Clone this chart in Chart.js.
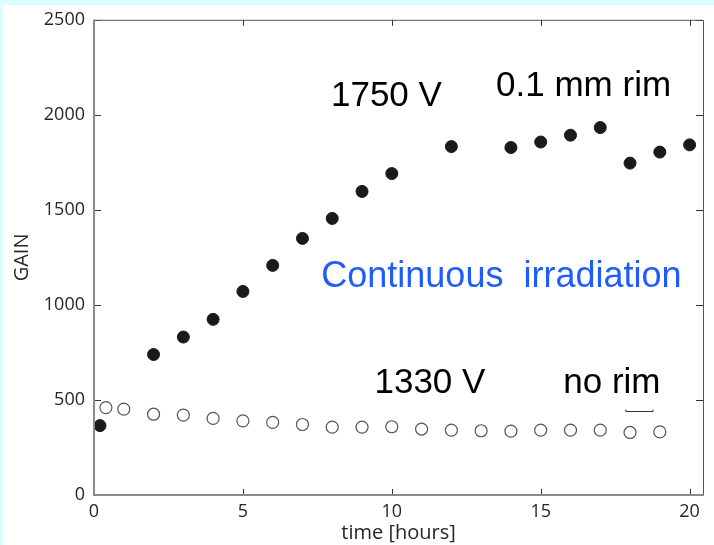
<!DOCTYPE html>
<html>
<head>
<meta charset="utf-8">
<script src="https://cdn.jsdelivr.net/npm/chart.js@4"></script>
<style>
  html, body { margin: 0; padding: 0; background: #dbffff; }
  #wrap { position: absolute; left: 0; top: 0; width: 714px; height: 545px; }
  #paper { position: absolute; left: 3px; top: 5px; right: 0; bottom: 0; background: #fff; }
</style>
</head>
<body>
<div id="wrap">
  <div id="paper"></div>
  <canvas id="chart" width="714" height="545" style="position:absolute;left:0;top:0"></canvas>
</div>
<script>
// 1750 V, 0.1 mm rim (filled dots)
const rimHours = [0.2, 2, 3, 4, 5, 6, 7, 8, 9, 10, 12, 14, 15, 16, 17, 18, 19, 20];
const rimGain = [365, 739, 831, 924, 1071, 1208, 1350, 1455, 1597, 1691, 1833, 1828, 1857, 1893, 1933, 1746, 1804, 1842];

// 1330 V, no rim (open circles)
const noRimHours = [0.4, 1, 2, 3, 4, 5, 6, 7, 8, 9, 10, 11, 12, 13, 14, 15, 16, 17, 18, 19];
const noRimGain = [460, 452, 425, 420, 403, 390, 382, 371, 357, 357, 359, 347, 341, 338, 336, 341, 341, 341, 329, 332];

const xTicks = [0, 5, 10, 15, 20];
const yTicks = [0, 500, 1000, 1500, 2000, 2500];

// text notes placed in data units
const notes = [
  { text: "1750 V", x: 9.82, y: 2048, color: "#000", size: 35 },
  { text: "0.1 mm rim", x: 16.44, y: 2101, color: "#000", size: 35 },
  { text: "Continuous  irradiation", x: 13.68, y: 1092, color: "#1f5cff", size: 36 },
  { text: "1330 V", x: 11.28, y: 536, color: "#000", size: 35 },
  { text: "no rim", x: 17.39, y: 536, color: "#000", size: 35 },
];
const bracket = { x0: 17.86, x1: 18.77, y: 441 };

const toPts = (xs, ys) => xs.map((x, i) => ({ x, y: ys[i] }));

const framePlugin = {
  id: "frame",
  afterDatasetsDraw(chart) {
    const { ctx, chartArea: a, scales } = chart;
    ctx.save();
    // ticks pointing inward on all four sides
    ctx.strokeStyle = "#333";
    ctx.lineWidth = 1;
    xTicks.forEach((v) => {
      const px = Math.round(scales.x.getPixelForValue(v)) + 0.5;
      ctx.beginPath();
      ctx.moveTo(px, a.bottom); ctx.lineTo(px, a.bottom - 6);
      ctx.moveTo(px, a.top); ctx.lineTo(px, a.top + 6);
      ctx.stroke();
    });
    yTicks.forEach((v) => {
      const py = Math.round(scales.y.getPixelForValue(v)) + 0.5;
      ctx.beginPath();
      ctx.moveTo(a.left, py); ctx.lineTo(a.left + 7, py);
      ctx.moveTo(a.right, py); ctx.lineTo(a.right - 7, py);
      ctx.stroke();
    });
    // top and right border
    ctx.strokeStyle = "#555";
    ctx.beginPath();
    ctx.moveTo(a.left, a.top + 0.5); ctx.lineTo(a.right + 0.5, a.top + 0.5);
    ctx.lineTo(a.right + 0.5, a.bottom);
    ctx.stroke();
    // left and bottom axis
    ctx.strokeStyle = "#8a8a8a";
    ctx.lineWidth = 2;
    ctx.beginPath();
    ctx.moveTo(a.left, a.top); ctx.lineTo(a.left, a.bottom); ctx.lineTo(a.right + 1, a.bottom);
    ctx.stroke();

    // annotations
    ctx.textAlign = "center";
    ctx.textBaseline = "alphabetic";
    notes.forEach((n) => {
      ctx.font = n.size + "px 'Liberation Sans', Arial, sans-serif";
      ctx.fillStyle = n.color;
      ctx.fillText(n.text, scales.x.getPixelForValue(n.x), scales.y.getPixelForValue(n.y));
    });
    const bx0 = scales.x.getPixelForValue(bracket.x0);
    const bx1 = scales.x.getPixelForValue(bracket.x1);
    const by = Math.round(scales.y.getPixelForValue(bracket.y)) + 0.5;
    ctx.strokeStyle = "#333";
    ctx.lineWidth = 1;
    ctx.beginPath();
    ctx.moveTo(bx0, by - 2); ctx.lineTo(bx0, by); ctx.lineTo(bx1, by); ctx.lineTo(bx1, by - 2);
    ctx.stroke();
    ctx.restore();
  },
};

const plain = (v) => String(v);

new Chart(document.getElementById("chart"), {
  type: "scatter",
  data: {
    datasets: [
      {
        label: "1750 V",
        data: toPts(rimHours, rimGain),
        pointRadius: 6,
        pointBackgroundColor: "#1a1a1a",
        pointBorderColor: "#1a1a1a",
        pointBorderWidth: 1,
      },
      {
        label: "1330 V",
        data: toPts(noRimHours, noRimGain),
        pointRadius: 6,
        pointBackgroundColor: "#fff",
        pointBorderColor: "#555",
        pointBorderWidth: 1.2,
      },
    ],
  },
  options: {
    responsive: false,
    animation: false,
    layout: { padding: { top: 19, right: 11, left: 0, bottom: 0 } },
    plugins: { legend: { display: false }, tooltip: { enabled: false } },
    scales: {
      x: {
        type: "linear",
        min: 0,
        max: 20.45,
        afterFit: (s) => { s.height = 50; },
        afterBuildTicks: (s) => { s.ticks = xTicks.map((v) => ({ value: v })); },
        grid: { display: false, drawTicks: false },
        border: { display: false },
        ticks: { color: "#262626", font: { family: "'Open Sans'", size: 18 }, padding: 6, maxRotation: 0, callback: plain },
        title: {
          display: true,
          text: "time [hours]",
          color: "#262626",
          font: { family: "'Open Sans'", size: 20 },
          padding: { top: 0, bottom: 0 },
        },
      },
      y: {
        type: "linear",
        min: 0,
        max: 2500,
        afterFit: (s) => { s.width = 94; },
        afterBuildTicks: (s) => { s.ticks = yTicks.map((v) => ({ value: v })); },
        grid: { display: false, drawTicks: false },
        border: { display: false },
        ticks: { color: "#262626", font: { family: "'Open Sans'", size: 18 }, padding: 9, callback: plain },
        title: {
          display: true,
          text: "GAIN",
          color: "#262626",
          font: { family: "'Open Sans'", size: 20 },
          padding: { top: 10, bottom: 0 },
        },
      },
    },
  },
  plugins: [framePlugin],
});
</script>
</body>
</html>
